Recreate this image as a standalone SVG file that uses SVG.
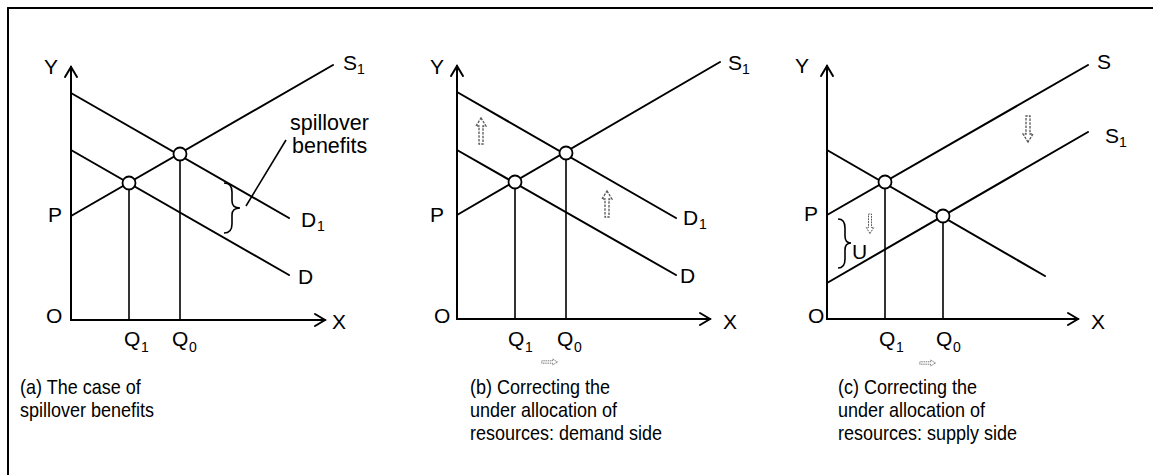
<svg xmlns="http://www.w3.org/2000/svg" width="1153" height="475" viewBox="0 0 1153 475">
<style>
.ln{stroke:#000;stroke-width:2;fill:none;stroke-linecap:round}
.th{stroke:#000;stroke-width:1.6;fill:none}
.pt{fill:#fff;stroke:#000;stroke-width:1.8}
.t{font-family:"Liberation Sans",Arial,sans-serif;font-size:21px;fill:#000}
.s{font-family:"Liberation Sans",Arial,sans-serif;font-size:14px;fill:#000}
.c{font-family:"Liberation Sans",Arial,sans-serif;font-size:20px;fill:#000}
.sp{font-family:"Liberation Sans",Arial,sans-serif;font-size:21.5px;fill:#000}
.ic{fill:none;stroke:#555;stroke-width:1.3;stroke-dasharray:2.5 1.2}
</style>
<defs>
<path id="hup" d="M0,-14 L5,-6 L2,-6 L2,12 L-2,12 L-2,-6 L-5,-6 Z"/>
</defs>
<rect width="1153" height="475" fill="#fff"/>
<g id="frame">
<line class="ln" x1="8" y1="8" x2="1153" y2="8"/>
<line class="ln" x1="8" y1="8" x2="8" y2="475"/>
</g>

<g id="panel-a">
<g id="axes-a">
<polyline class="ln" points="71,67 71,320 325,320"/>
<polyline class="ln" points="65,77 71,67 77,77"/>
<polyline class="ln" points="315,314 325,320 315,326"/>
</g>
<g id="curves-a">
<line class="ln" x1="71" y1="216" x2="333" y2="65"/>
<line class="ln" x1="71" y1="93" x2="289" y2="218"/>
<line class="ln" x1="71" y1="150" x2="289" y2="275"/>
<line class="th" x1="129" y1="183" x2="129" y2="320"/>
<line class="th" x1="180" y1="154" x2="180" y2="320"/>
<circle class="pt" cx="180" cy="154" r="6.5"/>
<circle class="pt" cx="129" cy="183" r="6.5"/>
<path class="th" d="M224,183 Q232,183 232,192 L232,201 Q232,208 240,208 Q232,208 232,215 L232,224 Q232,233 224,233"/>
<line class="th" x1="286" y1="140" x2="246" y2="206"/>
</g>
<g id="labels-a">
<text class="t" x="44" y="74">Y</text>
<text class="t" x="343" y="70">S</text><text class="s" x="357" y="74">1</text>
<text class="sp" x="290" y="130">spillover</text>
<text class="sp" x="292" y="153">benefits</text>
<text class="t" x="301" y="227">D</text><text class="s" x="317" y="231">1</text>
<text class="t" x="298" y="284">D</text>
<text class="t" x="48" y="222">P</text>
<text class="t" x="46" y="323">O</text>
<text class="t" x="332" y="329">X</text>
<text class="t" x="124" y="346">Q</text><text class="s" x="141" y="352">1</text>
<text class="t" x="172" y="346">Q</text><text class="s" x="189" y="352">0</text>
<text class="c" transform="translate(20,394) scale(0.9,1)">(a) The case of</text>
<text class="c" transform="translate(20,417) scale(0.9,1)">spillover benefits</text>
</g>
</g>

<g id="panel-b">
<g id="axes-b">
<polyline class="ln" points="457,66 457,319 710,319"/>
<polyline class="ln" points="451,76 457,66 463,76"/>
<polyline class="ln" points="700,313 710,319 700,325"/>
</g>
<g id="curves-b">
<line class="ln" x1="457" y1="215" x2="720" y2="62"/>
<line class="ln" x1="457" y1="92" x2="676" y2="218"/>
<line class="ln" x1="457" y1="150" x2="676" y2="275"/>
<line class="th" x1="515" y1="182" x2="515" y2="319"/>
<line class="th" x1="566" y1="153" x2="566" y2="319"/>
<circle class="pt" cx="566" cy="153" r="6.5"/>
<circle class="pt" cx="515" cy="182" r="6.5"/>
<use href="#hup" class="ic" transform="translate(481,132)"/>
<use href="#hup" class="ic" transform="translate(607,205)"/>
<use href="#hup" class="ic" transform="translate(549,362) rotate(90) scale(0.6)"/>
</g>
<g id="labels-b">
<text class="t" x="430" y="74">Y</text>
<text class="t" x="728" y="70">S</text><text class="s" x="742" y="74">1</text>
<text class="t" x="683" y="225">D</text><text class="s" x="699" y="229">1</text>
<text class="t" x="680" y="283">D</text>
<text class="t" x="430" y="222">P</text>
<text class="t" x="434" y="323">O</text>
<text class="t" x="723" y="329">X</text>
<text class="t" x="508" y="346">Q</text><text class="s" x="525" y="352">1</text>
<text class="t" x="557" y="346">Q</text><text class="s" x="574" y="352">0</text>
<text class="c" transform="translate(470,394) scale(0.9,1)">(b) Correcting the</text>
<text class="c" transform="translate(470,417) scale(0.9,1)">under allocation of</text>
<text class="c" transform="translate(470,440) scale(0.9,1)">resources: demand side</text>
</g>
</g>

<g id="panel-c">
<g id="axes-c">
<polyline class="ln" points="827,66 827,319 1078,319"/>
<polyline class="ln" points="821,76 827,66 833,76"/>
<polyline class="ln" points="1068,313 1078,319 1068,325"/>
</g>
<g id="curves-c">
<line class="ln" x1="827" y1="150" x2="1045" y2="276"/>
<line class="ln" x1="827" y1="215" x2="1088" y2="65"/>
<line class="ln" x1="827" y1="283" x2="1088" y2="132"/>
<line class="th" x1="885" y1="182" x2="885" y2="319"/>
<line class="th" x1="943" y1="216" x2="943" y2="319"/>
<circle class="pt" cx="885" cy="182" r="6.5"/>
<circle class="pt" cx="943" cy="216" r="6.5"/>
<path class="th" d="M838,219 Q845,219 845,228 L845,236 Q845,243 851,243 Q845,243 845,250 L845,259 Q845,268 838,268"/>
<use href="#hup" class="ic" transform="translate(1028,128) rotate(180)"/>
<use href="#hup" class="ic" transform="translate(870,223) rotate(180) scale(0.75)"/>
<use href="#hup" class="ic" transform="translate(927,363) rotate(90) scale(0.6)"/>
</g>
<g id="labels-c">
<text class="t" x="795" y="73">Y</text>
<text class="t" x="1097" y="69">S</text>
<text class="t" x="1105" y="143">S</text><text class="s" x="1119" y="147">1</text>
<text class="t" x="804" y="221">P</text>
<text class="t" x="852" y="259">U</text>
<text class="t" x="808" y="323">O</text>
<text class="t" x="1091" y="329">X</text>
<text class="t" x="879" y="346">Q</text><text class="s" x="896" y="352">1</text>
<text class="t" x="936" y="346">Q</text><text class="s" x="953" y="352">0</text>
<text class="c" transform="translate(838,394) scale(0.9,1)">(c) Correcting the</text>
<text class="c" transform="translate(838,417) scale(0.9,1)">under allocation of</text>
<text class="c" transform="translate(838,440) scale(0.9,1)">resources: supply side</text>
</g>
</g>
</svg>
